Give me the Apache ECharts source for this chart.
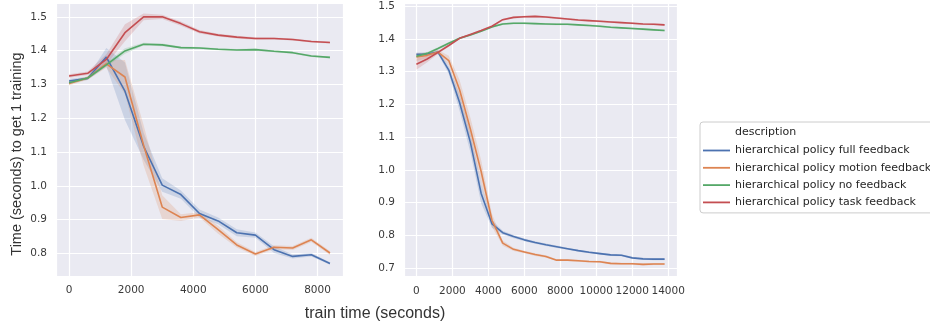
<!DOCTYPE html>
<html>
<head>
<meta charset="utf-8">
<script src="https://cdn.jsdelivr.net/npm/echarts@6/dist/echarts.min.js"></script>
<style>
html,body{margin:0;padding:0;background:#fff;}
#chart{width:930px;height:323px;}
</style>
</head>
<body>
<div id="chart"></div>
<script>
// ---- data ----
const seriesNames = [
  'hierarchical policy full feedback',
  'hierarchical policy motion feedback',
  'hierarchical policy no feedback',
  'hierarchical policy task feedback'
];
const legendTitle = 'description';
const xTitle = 'train time (seconds)';
const yTitle = 'Time (seconds) to get 1 training';

// left panel
const xLeft = [0,600,1200,1800,2400,3000,3600,4200,4800,5400,6000,6600,7200,7800,8400];
const fullL   = [1.310,1.318,1.381,1.280,1.117,1.002,0.974,0.918,0.896,0.861,0.854,0.811,0.791,0.796,0.770];
const motionL = [1.303,1.319,1.361,1.322,1.120,0.937,0.906,0.914,0.870,0.825,0.798,0.818,0.816,0.840,0.801];
const noL     = [1.305,1.319,1.358,1.399,1.419,1.417,1.409,1.408,1.404,1.402,1.403,1.398,1.394,1.384,1.380];
const taskL   = [1.325,1.333,1.374,1.453,1.500,1.500,1.480,1.456,1.446,1.440,1.436,1.436,1.433,1.427,1.424];
const fullLci   = [0.006,0.005,0.027,0.085,0.040,0.020,0.012,0.012,0.010,0.010,0.008,0.010,0.006,0.005,0.004];
const motionLci = [0.006,0.005,0.012,0.050,0.060,0.035,0.010,0.008,0.012,0.008,0.006,0.006,0.006,0.006,0.006];
const noLci     = [0.005,0.004,0.006,0.008,0.004,0.004,0.003,0.003,0.003,0.003,0.003,0.003,0.003,0.003,0.003];
const taskLci   = [0.005,0.005,0.015,0.025,0.010,0.006,0.006,0.005,0.004,0.004,0.004,0.003,0.003,0.003,0.003];

// right panel
const xRight = [0,600,1200,1800,2400,3000,3600,4200,4800,5400,6000,6600,7200,7800,8400,9000,9600,10200,10800,11400,12000,12600,13200,13800];
const fullR   = [1.353,1.354,1.360,1.305,1.206,1.084,0.928,0.835,0.808,0.796,0.786,0.778,0.771,0.765,0.759,0.753,0.748,0.744,0.740,0.739,0.731,0.728,0.727,0.727];
const motionR = [1.345,1.350,1.360,1.334,1.245,1.125,0.995,0.846,0.776,0.757,0.749,0.741,0.735,0.724,0.724,0.722,0.720,0.719,0.714,0.713,0.713,0.711,0.712,0.712];
const noR     = [1.347,1.356,1.371,1.387,1.402,1.412,1.424,1.437,1.446,1.448,1.448,1.447,1.446,1.445,1.445,1.443,1.441,1.439,1.436,1.434,1.432,1.430,1.428,1.426];
const taskR   = [1.323,1.339,1.359,1.380,1.402,1.414,1.426,1.439,1.459,1.466,1.468,1.469,1.467,1.464,1.461,1.458,1.456,1.454,1.452,1.450,1.448,1.446,1.445,1.443];
const fullRci   = [0.006,0.005,0.006,0.012,0.025,0.030,0.030,0.012,0.006,0.005,0.004,0.004,0.004,0.004,0.003,0.003,0.003,0.003,0.003,0.003,0.003,0.003,0.003,0.003];
const motionRci = [0.012,0.008,0.006,0.015,0.030,0.035,0.035,0.020,0.008,0.005,0.004,0.004,0.004,0.003,0.003,0.003,0.003,0.003,0.003,0.003,0.003,0.003,0.003,0.003];
const noRci     = [0.006,0.004,0.004,0.004,0.003,0.003,0.003,0.003,0.003,0.003,0.003,0.003,0.003,0.003,0.003,0.003,0.003,0.003,0.003,0.003,0.003,0.003,0.003,0.003];
const taskRci   = [0.017,0.010,0.005,0.004,0.003,0.003,0.003,0.003,0.003,0.003,0.003,0.003,0.003,0.003,0.003,0.003,0.003,0.003,0.003,0.003,0.003,0.003,0.003,0.003];

const colors = ['#4C72B0','#DD8452','#55A868','#C44E52'];

// ---- build ----
const panels = [
  {x: xLeft,  means: [fullL, motionL, noL, taskL], cis: [fullLci, motionLci, noLci, taskLci]},
  {x: xRight, means: [fullR, motionR, noR, taskR], cis: [fullRci, motionRci, noRci, taskRci]}
];

const series = [];
panels.forEach((p, pi) => {
  p.means.forEach((m, si) => {
    const ci = p.cis[si];
    series.push({
      type: 'custom', xAxisIndex: pi, yAxisIndex: pi, silent: true, z: 1, clip: true,
      data: p.x.map((x, i) => [x, m[i]]),
      renderItem: function (params, api) {
        if (params.dataIndex !== 0) return null;
        const upper = p.x.map((x, i) => api.coord([x, m[i] + ci[i]]));
        const lower = p.x.map((x, i) => api.coord([x, m[i] - ci[i]])).reverse();
        return {
          type: 'polygon',
          shape: {points: upper.concat(lower)},
          style: {fill: colors[si], opacity: 0.2, stroke: null}
        };
      }
    });
  });
});
panels.forEach((p, pi) => {
  p.means.forEach((m, si) => {
    series.push({
      type: 'line', xAxisIndex: pi, yAxisIndex: pi,
      name: seriesNames[si], symbol: 'none', z: 3,
      color: colors[si],
      lineStyle: {color: colors[si], width: 1.6},
      data: p.x.map((x, i) => [x, m[i]])
    });
  });
});

const tickFont = {fontFamily: 'DejaVu Sans', fontSize: 10.5, color: '#3a3a3a'};

function xAx(idx, min, max) {
  return {
    type: 'value', gridIndex: idx, min: min, max: max,
    minInterval: 2000, maxInterval: 2000,
    axisLine: {show: false}, axisTick: {show: false},
    axisLabel: Object.assign({margin: 9, showMinLabel: false, showMaxLabel: false,
      formatter: v => String(Math.round(v))}, tickFont),
    splitLine: {show: true, lineStyle: {color: '#ffffff', width: 1.2}}
  };
}
function yAx(idx, min, max) {
  return {
    type: 'value', gridIndex: idx, min: min, max: max,
    minInterval: 0.1, maxInterval: 0.1,
    axisLine: {show: false}, axisTick: {show: false},
    axisLabel: Object.assign({margin: 9, showMinLabel: false, showMaxLabel: false,
      formatter: v => v.toFixed(1)}, tickFont),
    splitLine: {show: true, lineStyle: {color: '#ffffff', width: 1.2}}
  };
}

const chart = echarts.init(document.getElementById('chart'), null, {renderer: 'canvas'});
chart.setOption({
  animation: false,
  backgroundColor: '#ffffff',
  grid: [
    {left: 56, top: 3, width: 287, height: 273, show: true, backgroundColor: '#EAEAF2', borderWidth: 0},
    {left: 404, top: 3, width: 273, height: 273.5, show: true, backgroundColor: '#EAEAF2', borderWidth: 0}
  ],
  xAxis: [xAx(0, -420, 8820), xAx(1, -690, 14490)],
  yAxis: [yAx(0, 0.733, 1.541), yAx(1, 0.674, 1.510)],
  legend: {
    orient: 'vertical', left: 700, top: 122,
    padding: [23, 8, 5, 3],
    itemWidth: 27, itemHeight: 14, itemGap: 6.3,
    icon: 'path://M0,0h24v1.6h-24z',
    backgroundColor: '#ffffff', borderColor: '#cccccc', borderWidth: 1, borderRadius: 3,
    textStyle: {fontFamily: 'DejaVu Sans', fontSize: 11, color: '#262626'},
    selectedMode: false,
    data: seriesNames
  },
  graphic: [
    {type: 'text', left: 735, top: 126.5, z: 100,
      style: {text: legendTitle, fontFamily: 'DejaVu Sans', fontSize: 11, fill: '#262626'}},
    {type: 'text', x: 17, y: 154, rotation: Math.PI / 2, z: 100,
      style: {text: yTitle, fontFamily: 'Liberation Sans', fontSize: 14.5, fill: '#333333',
        align: 'center', verticalAlign: 'middle'}},
    {type: 'text', x: 375, y: 314, z: 100,
      style: {text: xTitle, fontFamily: 'Liberation Sans', fontSize: 16, fill: '#333333',
        align: 'center', verticalAlign: 'middle'}}
  ],
  series: series
});
</script>
</body>
</html>
